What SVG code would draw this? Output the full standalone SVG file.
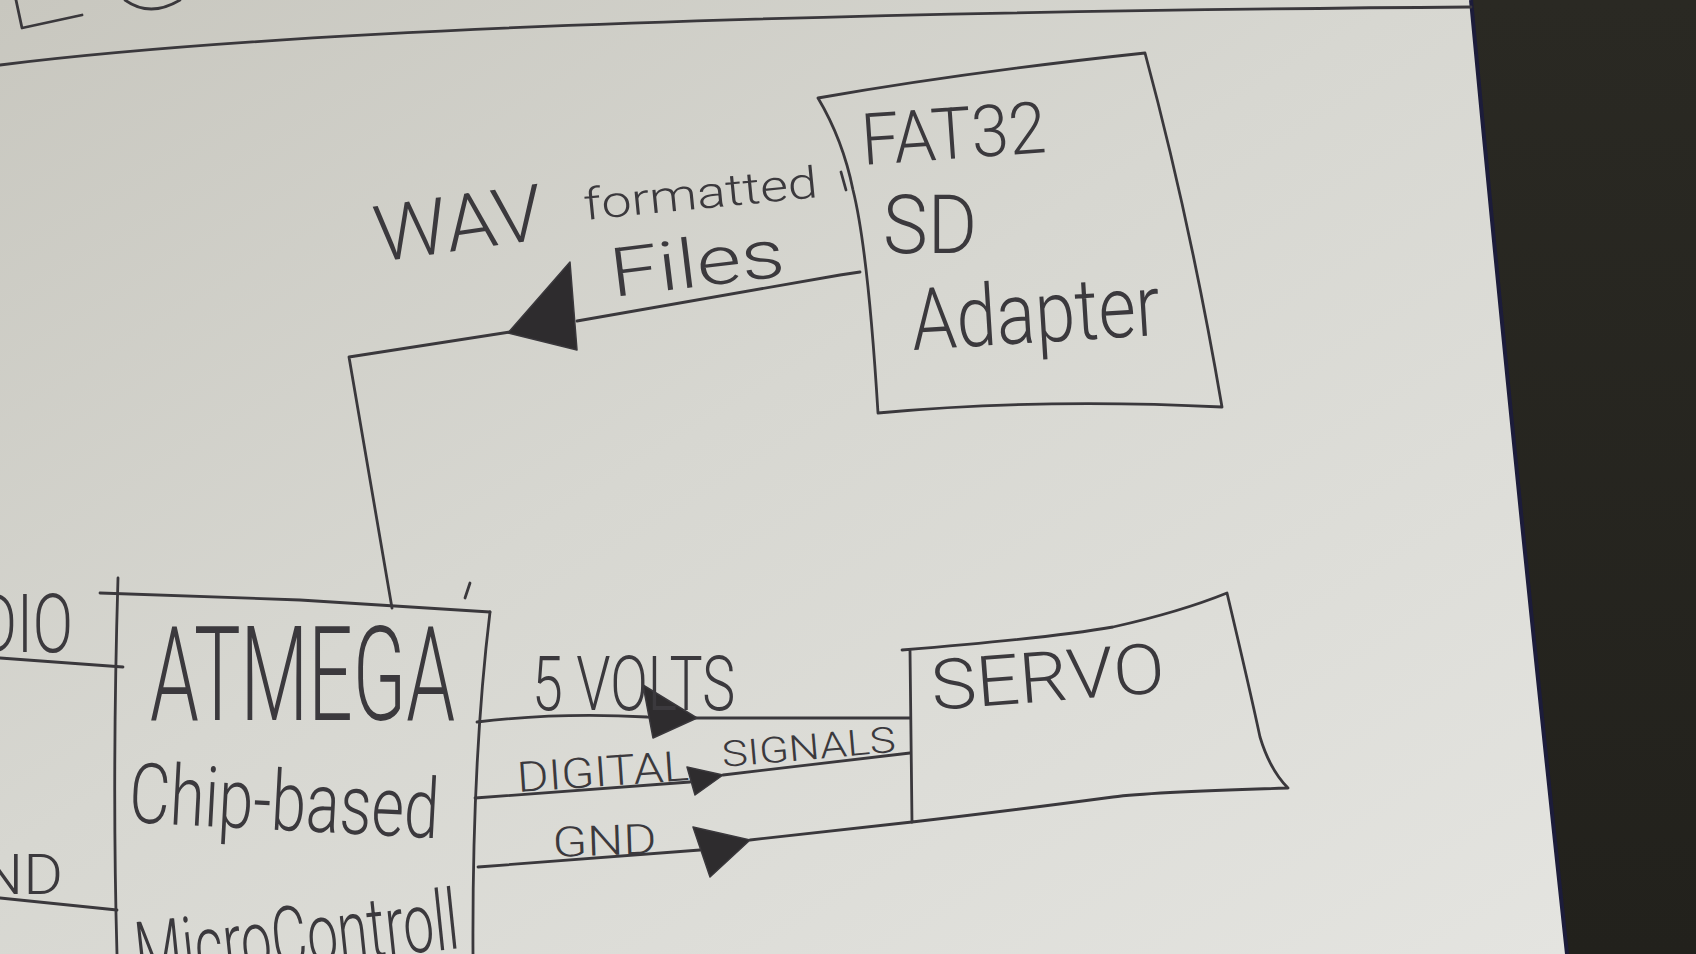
<svg xmlns="http://www.w3.org/2000/svg" width="1696" height="954" viewBox="0 0 1696 954">
<defs>
<linearGradient id="paper" x1="0" y1="0" x2="1" y2="1">
<stop offset="0" stop-color="#c8c7bf"/>
<stop offset="0.45" stop-color="#d7d7d1"/>
<stop offset="1" stop-color="#e4e4e0"/>
</linearGradient>
<linearGradient id="table" x1="0" y1="0" x2="0" y2="1">
<stop offset="0" stop-color="#2a2923"/>
<stop offset="1" stop-color="#22211c"/>
</linearGradient>
<style>
.pen{fill:none;stroke:#3a383c;stroke-width:2.8;stroke-linecap:round;stroke-linejoin:round}
.head{fill:#2e2c2e;stroke:#3a383c;stroke-width:1.5;stroke-linejoin:round}
.hw{font-family:Roboto,"Open Sans","Liberation Sans",sans-serif;font-weight:300;fill:#3b393d}
</style>
</defs>
<rect x="0" y="0" width="1696" height="954" fill="url(#table)"/>
<path d="M0,0 L1471,0 Q1515,470 1567,954 L0,954 Z" fill="url(#paper)"/>
<path d="M1471,0 Q1515,470 1567,954" fill="none" stroke="#1c1c3a" stroke-width="4"/>
<g id="sheet-marks">
<path class="pen" d="M0,65 Q400,15 1471,7"/>
<path class="pen" d="M16,0 L22,28 L82,15"/>
<path class="pen" d="M125,0 Q150,18 180,0"/>
</g>
<g id="connectors">
<path class="pen" d="M0,658 L123,667"/>
<path class="pen" d="M0,898 L117,910"/>
<path class="pen" d="M392,608 L349,357 L510,332"/>
<polygon class="head" points="508,333 570,262 577,350"/>
<path class="pen" d="M577,321 L840,275 L860,272"/>
<path class="pen" d="M477,722 Q560,712 647,717 L697,718 L910,718"/>
<polygon class="head" points="643,685 697,718 653,738"/>
<path class="pen" d="M475,798 L690,782"/>
<path class="pen" d="M723,775 L910,753"/>
<polygon class="head" points="687,767 723,775 695,795"/>
<path class="pen" d="M478,867 L700,850"/>
<path class="pen" d="M750,840 L912,822"/>
<polygon class="head" points="693,827 750,840 710,877"/>
</g>
<g id="label-audio">
<text class="hw" x="-22" y="652" font-size="82" textLength="95" lengthAdjust="spacingAndGlyphs">DIO</text>
</g>
<g id="label-gnd-left">
<text class="hw" x="-20" y="894" font-size="56" textLength="83" lengthAdjust="spacingAndGlyphs">ND</text>
</g>
<g id="atmega">
<path class="pen" d="M100,593 L300,600 L490,612"/>
<path class="pen" d="M118,578 Q112,780 117,954"/>
<path class="pen" d="M490,612 Q472,760 473,954"/>
<path class="pen" d="M470,583 L465,598"/>
<text class="hw" transform="translate(150,720) scale(0.58,1)" font-size="132" textLength="526" lengthAdjust="spacingAndGlyphs">ATMEGA</text>
<text class="hw" transform="translate(128,822) rotate(3) scale(0.84,1)" font-size="84" textLength="369" lengthAdjust="spacingAndGlyphs">Chip-based</text>
<text class="hw" transform="translate(138,982) rotate(-6) scale(0.66,1)" font-size="84" textLength="492" lengthAdjust="spacingAndGlyphs">MicroControll</text>
</g>
<g id="fat32-sd">
<path class="pen" d="M818,98 Q967,72 1145,53 Q1190,220 1222,407 Q1040,398 878,413 Q868,250 853,190 Q843,140 818,98 Z"/>
<path class="pen" d="M841,172 L846,190"/>
<text class="hw" transform="translate(863,165) rotate(-4)" font-size="72" textLength="185" lengthAdjust="spacingAndGlyphs">FAT32</text>
<text class="hw" x="883" y="253" font-size="82" textLength="94" lengthAdjust="spacingAndGlyphs">SD</text>
<text class="hw" transform="translate(913,350) rotate(-3.5)" font-size="86" textLength="249" lengthAdjust="spacingAndGlyphs">Adapter</text>
</g>
<g id="servo">
<path class="pen" d="M902,650 Q1050,638 1113,627 Q1180,612 1227,593 Q1250,690 1260,737 Q1270,770 1288,788 Q1150,792 1113,797 Q1000,812 912,822 L910,650"/>
<text class="hw" transform="translate(933,710) rotate(-4.4)" font-size="70" textLength="234" lengthAdjust="spacingAndGlyphs">SERVO</text>
</g>
<g id="connector-labels">
<text class="hw" transform="translate(378,262) rotate(-8)" font-size="78" textLength="170" lengthAdjust="spacingAndGlyphs">WAV</text>
<text class="hw" transform="translate(585,220) rotate(-5.6)" font-size="44" textLength="235" lengthAdjust="spacingAndGlyphs">formatted</text>
<text class="hw" transform="translate(613,297) rotate(-7)" font-size="68" textLength="175" lengthAdjust="spacingAndGlyphs">Files</text>
<text class="hw" transform="translate(532,710) scale(0.8,1)" font-size="76" textLength="254" lengthAdjust="spacingAndGlyphs">5 VOLTS</text>
<text class="hw" transform="translate(518,792) rotate(-4)" font-size="42" textLength="172" lengthAdjust="spacingAndGlyphs">DIGITAL</text>
<text class="hw" transform="translate(723,767) rotate(-5)" font-size="36" textLength="174" lengthAdjust="spacingAndGlyphs">SIGNALS</text>
<text class="hw" transform="translate(553,857) rotate(-2)" font-size="42" textLength="104" lengthAdjust="spacingAndGlyphs">GND</text>
</g>
</svg>
